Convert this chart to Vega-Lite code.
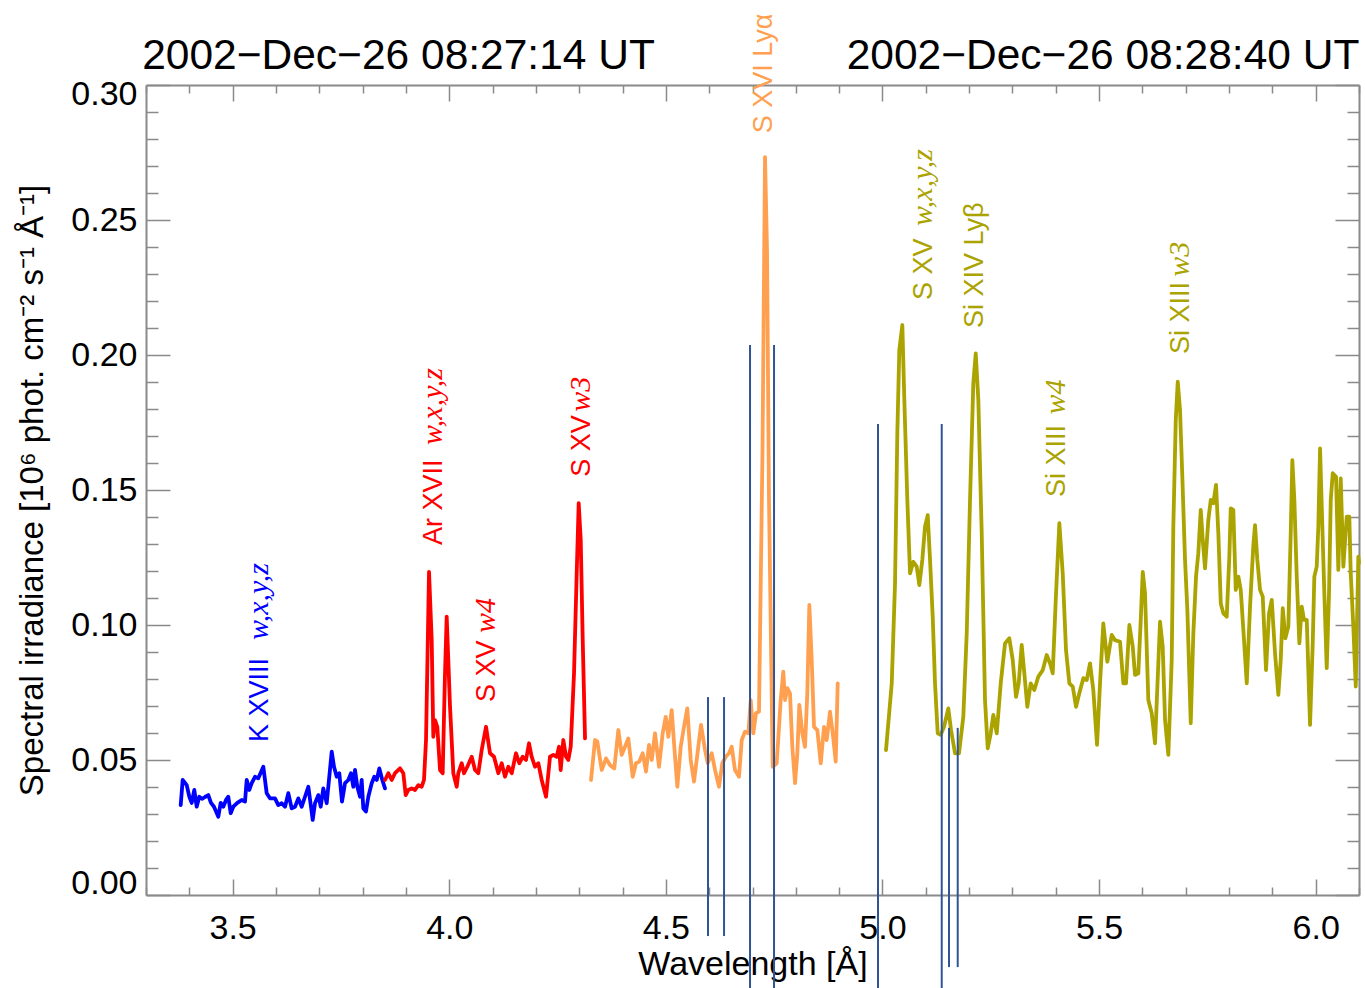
{
  "$schema": "https://vega.github.io/schema/vega-lite/v6.json",
  "width": 1213,
  "height": 810,
  "autosize": {"type": "none"},
  "padding": {"left": 146, "top": 85, "right": 6, "bottom": 93},
  "background": "white",
  "config": {"view": {"stroke": null}, "font": "Liberation Sans"},
  "datasets": {
    "spec": [
      {"seg":"K","x":3.3801,"y":0.0333},{"seg":"K","x":3.3847,"y":0.0426},{"seg":"K","x":3.3940,"y":0.0407},{"seg":"K","x":3.4000,"y":0.0364},{"seg":"K","x":3.4055,"y":0.0341},{"seg":"K","x":3.4115,"y":0.0389},{"seg":"K","x":3.4170,"y":0.0327},{"seg":"K","x":3.4230,"y":0.0364},{"seg":"K","x":3.4293,"y":0.0356},{"seg":"K","x":3.4362,"y":0.0363},{"seg":"K","x":3.4438,"y":0.0370},{"seg":"K","x":3.4500,"y":0.0341},{"seg":"K","x":3.4570,"y":0.0327},{"seg":"K","x":3.4669,"y":0.0290},{"seg":"K","x":3.4724,"y":0.0341},{"seg":"K","x":3.4784,"y":0.0327},{"seg":"K","x":3.4847,"y":0.0352},{"seg":"K","x":3.4900,"y":0.0364},{"seg":"K","x":3.4955,"y":0.0303},{"seg":"K","x":3.5015,"y":0.0327},{"seg":"K","x":3.5108,"y":0.0341},{"seg":"K","x":3.5209,"y":0.0352},{"seg":"K","x":3.5285,"y":0.0346},{"seg":"K","x":3.5325,"y":0.0426},{"seg":"K","x":3.5385,"y":0.0389},{"seg":"K","x":3.5440,"y":0.0414},{"seg":"K","x":3.5516,"y":0.0438},{"seg":"K","x":3.5592,"y":0.0432},{"seg":"K","x":3.5708,"y":0.0475},{"seg":"K","x":3.5786,"y":0.0377},{"seg":"K","x":3.5862,"y":0.0358},{"seg":"K","x":3.5978,"y":0.0358},{"seg":"K","x":3.6054,"y":0.0333},{"seg":"K","x":3.6133,"y":0.0340},{"seg":"K","x":3.6209,"y":0.0327},{"seg":"K","x":3.6285,"y":0.0377},{"seg":"K","x":3.6363,"y":0.0321},{"seg":"K","x":3.6440,"y":0.0327},{"seg":"K","x":3.6516,"y":0.0358},{"seg":"K","x":3.6594,"y":0.0327},{"seg":"K","x":3.6670,"y":0.0364},{"seg":"K","x":3.6747,"y":0.0401},{"seg":"K","x":3.6809,"y":0.0327},{"seg":"K","x":3.6848,"y":0.0278},{"seg":"K","x":3.6901,"y":0.0340},{"seg":"K","x":3.6977,"y":0.0370},{"seg":"K","x":3.7033,"y":0.0327},{"seg":"K","x":3.7093,"y":0.0395},{"seg":"K","x":3.7171,"y":0.0340},{"seg":"K","x":3.7231,"y":0.0438},{"seg":"K","x":3.7287,"y":0.0531},{"seg":"K","x":3.7340,"y":0.0475},{"seg":"K","x":3.7402,"y":0.0438},{"seg":"K","x":3.7462,"y":0.0451},{"seg":"K","x":3.7524,"y":0.0346},{"seg":"K","x":3.7594,"y":0.0414},{"seg":"K","x":3.7670,"y":0.0426},{"seg":"K","x":3.7732,"y":0.0451},{"seg":"K","x":3.7785,"y":0.0401},{"seg":"K","x":3.7825,"y":0.0463},{"seg":"K","x":3.7878,"y":0.0401},{"seg":"K","x":3.7940,"y":0.0364},{"seg":"K","x":3.7979,"y":0.0426},{"seg":"K","x":3.8016,"y":0.0321},{"seg":"K","x":3.8078,"y":0.0309},{"seg":"K","x":3.8132,"y":0.0364},{"seg":"K","x":3.8210,"y":0.0414},{"seg":"K","x":3.8270,"y":0.0438},{"seg":"K","x":3.8326,"y":0.0426},{"seg":"K","x":3.8386,"y":0.0469},{"seg":"K","x":3.8455,"y":0.0426},{"seg":"K","x":3.8517,"y":0.0395},
      {"seg":"Ar","x":3.8517,"y":0.0426},{"seg":"Ar","x":3.8593,"y":0.0451},{"seg":"Ar","x":3.8672,"y":0.0426},{"seg":"Ar","x":3.8748,"y":0.0451},{"seg":"Ar","x":3.8863,"y":0.0469},{"seg":"Ar","x":3.8940,"y":0.0451},{"seg":"Ar","x":3.8995,"y":0.0370},{"seg":"Ar","x":3.9055,"y":0.0389},{"seg":"Ar","x":3.9133,"y":0.0395},{"seg":"Ar","x":3.9210,"y":0.0389},{"seg":"Ar","x":3.9286,"y":0.0407},{"seg":"Ar","x":3.9364,"y":0.0401},{"seg":"Ar","x":3.9417,"y":0.0426},{"seg":"Ar","x":3.9464,"y":0.0574},{"seg":"Ar","x":3.9533,"y":0.1197},{"seg":"Ar","x":3.9595,"y":0.0944},{"seg":"Ar","x":3.9632,"y":0.0586},{"seg":"Ar","x":3.9671,"y":0.0648},{"seg":"Ar","x":3.9724,"y":0.0623},{"seg":"Ar","x":3.9787,"y":0.0463},{"seg":"Ar","x":3.9849,"y":0.0451},{"seg":"Ar","x":3.9902,"y":0.0821},{"seg":"Ar","x":3.9941,"y":0.1031},{"seg":"Ar","x":4.0018,"y":0.0697},{"seg":"Ar","x":4.0094,"y":0.0451},{"seg":"Ar","x":4.0172,"y":0.0401},{"seg":"Ar","x":4.0209,"y":0.0451},{"seg":"Ar","x":4.0288,"y":0.0488},{"seg":"Ar","x":4.0341,"y":0.0451},{"seg":"Ar","x":4.0417,"y":0.0475},{"seg":"Ar","x":4.0519,"y":0.0512},{"seg":"Ar","x":4.0595,"y":0.0463},{"seg":"Ar","x":4.0671,"y":0.0451},{"seg":"Ar","x":4.0749,"y":0.0537},{"seg":"Ar","x":4.0849,"y":0.0623},{"seg":"Ar","x":4.0941,"y":0.0525},{"seg":"Ar","x":4.1033,"y":0.0512},{"seg":"Ar","x":4.1133,"y":0.0451},{"seg":"Ar","x":4.1211,"y":0.0488},{"seg":"Ar","x":4.1287,"y":0.0438},{"seg":"Ar","x":4.1363,"y":0.0475},{"seg":"Ar","x":4.1442,"y":0.0451},{"seg":"Ar","x":4.1541,"y":0.0525},{"seg":"Ar","x":4.1617,"y":0.0488},{"seg":"Ar","x":4.1696,"y":0.0512},{"seg":"Ar","x":4.1772,"y":0.0500},{"seg":"Ar","x":4.1841,"y":0.0562},{"seg":"Ar","x":4.1903,"y":0.0512},{"seg":"Ar","x":4.1980,"y":0.0475},{"seg":"Ar","x":4.2056,"y":0.0488},{"seg":"Ar","x":4.2134,"y":0.0426},{"seg":"Ar","x":4.2234,"y":0.0364},{"seg":"Ar","x":4.2326,"y":0.0512},{"seg":"Ar","x":4.2402,"y":0.0519},{"seg":"Ar","x":4.2481,"y":0.0512},{"seg":"Ar","x":4.2534,"y":0.0549},{"seg":"Ar","x":4.2573,"y":0.0463},{"seg":"Ar","x":4.2633,"y":0.0574},{"seg":"Ar","x":4.2695,"y":0.0512},{"seg":"Ar","x":4.2748,"y":0.0500},{"seg":"Ar","x":4.2804,"y":0.0549},{"seg":"Ar","x":4.2880,"y":0.0821},{"seg":"Ar","x":4.2942,"y":0.1191},{"seg":"Ar","x":4.2988,"y":0.1451},{"seg":"Ar","x":4.3035,"y":0.1315},{"seg":"Ar","x":4.3081,"y":0.0944},{"seg":"Ar","x":4.3134,"y":0.0580},
      {"seg":"SXVI","x":4.3272,"y":0.0426},{"seg":"SXVI","x":4.3365,"y":0.0574},{"seg":"SXVI","x":4.3418,"y":0.0568},{"seg":"SXVI","x":4.3519,"y":0.0463},{"seg":"SXVI","x":4.3619,"y":0.0506},{"seg":"SXVI","x":4.3711,"y":0.0481},{"seg":"SXVI","x":4.3810,"y":0.0469},{"seg":"SXVI","x":4.3903,"y":0.0611},{"seg":"SXVI","x":4.3981,"y":0.0519},{"seg":"SXVI","x":4.4057,"y":0.0549},{"seg":"SXVI","x":4.4133,"y":0.0580},{"seg":"SXVI","x":4.4235,"y":0.0438},{"seg":"SXVI","x":4.4311,"y":0.0488},{"seg":"SXVI","x":4.4387,"y":0.0494},{"seg":"SXVI","x":4.4466,"y":0.0525},{"seg":"SXVI","x":4.4542,"y":0.0457},{"seg":"SXVI","x":4.4611,"y":0.0556},{"seg":"SXVI","x":4.4674,"y":0.0500},{"seg":"SXVI","x":4.4750,"y":0.0599},{"seg":"SXVI","x":4.4842,"y":0.0475},{"seg":"SXVI","x":4.4927,"y":0.0599},{"seg":"SXVI","x":4.4997,"y":0.0660},{"seg":"SXVI","x":4.5057,"y":0.0586},{"seg":"SXVI","x":4.5135,"y":0.0685},{"seg":"SXVI","x":4.5195,"y":0.0549},{"seg":"SXVI","x":4.5265,"y":0.0401},{"seg":"SXVI","x":4.5343,"y":0.0549},{"seg":"SXVI","x":4.5419,"y":0.0623},{"seg":"SXVI","x":4.5495,"y":0.0691},{"seg":"SXVI","x":4.5574,"y":0.0500},{"seg":"SXVI","x":4.5650,"y":0.0420},{"seg":"SXVI","x":4.5749,"y":0.0549},{"seg":"SXVI","x":4.5812,"y":0.0630},{"seg":"SXVI","x":4.5904,"y":0.0537},{"seg":"SXVI","x":4.5966,"y":0.0488},{"seg":"SXVI","x":4.6059,"y":0.0525},{"seg":"SXVI","x":4.6135,"y":0.0463},{"seg":"SXVI","x":4.6227,"y":0.0401},{"seg":"SXVI","x":4.6303,"y":0.0488},{"seg":"SXVI","x":4.6382,"y":0.0512},{"seg":"SXVI","x":4.6458,"y":0.0525},{"seg":"SXVI","x":4.6520,"y":0.0549},{"seg":"SXVI","x":4.6596,"y":0.0463},{"seg":"SXVI","x":4.6689,"y":0.0438},{"seg":"SXVI","x":4.6751,"y":0.0574},{"seg":"SXVI","x":4.6827,"y":0.0605},{"seg":"SXVI","x":4.6904,"y":0.0599},{"seg":"SXVI","x":4.6959,"y":0.0722},{"seg":"SXVI","x":4.7019,"y":0.0599},{"seg":"SXVI","x":4.7081,"y":0.0673},{"seg":"SXVI","x":4.7150,"y":0.0679},{"seg":"SXVI","x":4.7231,"y":0.1648},{"seg":"SXVI","x":4.7289,"y":0.2733},{"seg":"SXVI","x":4.7335,"y":0.2389},{"seg":"SXVI","x":4.7381,"y":0.1463},{"seg":"SXVI","x":4.7467,"y":0.0475},{"seg":"SXVI","x":4.7559,"y":0.0488},{"seg":"SXVI","x":4.7651,"y":0.0722},{"seg":"SXVI","x":4.7711,"y":0.0827},{"seg":"SXVI","x":4.7751,"y":0.0722},{"seg":"SXVI","x":4.7804,"y":0.0766},{"seg":"SXVI","x":4.7866,"y":0.0747},{"seg":"SXVI","x":4.7919,"y":0.0549},{"seg":"SXVI","x":4.7982,"y":0.0414},{"seg":"SXVI","x":4.8035,"y":0.0525},{"seg":"SXVI","x":4.8081,"y":0.0704},{"seg":"SXVI","x":4.8150,"y":0.0599},{"seg":"SXVI","x":4.8212,"y":0.0549},{"seg":"SXVI","x":4.8265,"y":0.0747},{"seg":"SXVI","x":4.8312,"y":0.1074},{"seg":"SXVI","x":4.8367,"y":0.0870},{"seg":"SXVI","x":4.8420,"y":0.0623},{"seg":"SXVI","x":4.8496,"y":0.0611},{"seg":"SXVI","x":4.8575,"y":0.0488},{"seg":"SXVI","x":4.8651,"y":0.0623},{"seg":"SXVI","x":4.8713,"y":0.0574},{"seg":"SXVI","x":4.8789,"y":0.0679},{"seg":"SXVI","x":4.8852,"y":0.0599},{"seg":"SXVI","x":4.8921,"y":0.0494},{"seg":"SXVI","x":4.8967,"y":0.0784},
      {"seg":"Si","x":5.0082,"y":0.0537},{"seg":"Si","x":5.0214,"y":0.0784},{"seg":"Si","x":5.0290,"y":0.1154},{"seg":"Si","x":5.0343,"y":0.1710},{"seg":"Si","x":5.0389,"y":0.2019},{"seg":"Si","x":5.0459,"y":0.2111},{"seg":"Si","x":5.0505,"y":0.1833},{"seg":"Si","x":5.0574,"y":0.1463},{"seg":"Si","x":5.0636,"y":0.1191},{"seg":"Si","x":5.0712,"y":0.1234},{"seg":"Si","x":5.0791,"y":0.1216},{"seg":"Si","x":5.0851,"y":0.1148},{"seg":"Si","x":5.0920,"y":0.1241},{"seg":"Si","x":5.0982,"y":0.1364},{"seg":"Si","x":5.1045,"y":0.1407},{"seg":"Si","x":5.1098,"y":0.1241},{"seg":"Si","x":5.1160,"y":0.1031},{"seg":"Si","x":5.1213,"y":0.0784},{"seg":"Si","x":5.1275,"y":0.0599},{"seg":"Si","x":5.1345,"y":0.0593},{"seg":"Si","x":5.1421,"y":0.0623},{"seg":"Si","x":5.1520,"y":0.0691},{"seg":"Si","x":5.1583,"y":0.0611},{"seg":"Si","x":5.1675,"y":0.0525},{"seg":"Si","x":5.1767,"y":0.0525},{"seg":"Si","x":5.1866,"y":0.0660},{"seg":"Si","x":5.1945,"y":0.0969},{"seg":"Si","x":5.2021,"y":0.1463},{"seg":"Si","x":5.2097,"y":0.1895},{"seg":"Si","x":5.2153,"y":0.2006},{"seg":"Si","x":5.2213,"y":0.1833},{"seg":"Si","x":5.2291,"y":0.1340},{"seg":"Si","x":5.2367,"y":0.0722},{"seg":"Si","x":5.2430,"y":0.0543},{"seg":"Si","x":5.2499,"y":0.0599},{"seg":"Si","x":5.2559,"y":0.0667},{"seg":"Si","x":5.2638,"y":0.0599},{"seg":"Si","x":5.2730,"y":0.0784},{"seg":"Si","x":5.2829,"y":0.0932},{"seg":"Si","x":5.2928,"y":0.0951},{"seg":"Si","x":5.3007,"y":0.0870},{"seg":"Si","x":5.3083,"y":0.0734},{"seg":"Si","x":5.3145,"y":0.0784},{"seg":"Si","x":5.3214,"y":0.0926},{"seg":"Si","x":5.3275,"y":0.0821},{"seg":"Si","x":5.3344,"y":0.0697},{"seg":"Si","x":5.3422,"y":0.0784},{"seg":"Si","x":5.3505,"y":0.0759},{"seg":"Si","x":5.3598,"y":0.0809},{"seg":"Si","x":5.3700,"y":0.0833},{"seg":"Si","x":5.3792,"y":0.0889},{"seg":"Si","x":5.3868,"y":0.0858},{"seg":"Si","x":5.3930,"y":0.0821},{"seg":"Si","x":5.4000,"y":0.1093},{"seg":"Si","x":5.4083,"y":0.1377},{"seg":"Si","x":5.4161,"y":0.1191},{"seg":"Si","x":5.4237,"y":0.0907},{"seg":"Si","x":5.4314,"y":0.0784},{"seg":"Si","x":5.4392,"y":0.0772},{"seg":"Si","x":5.4468,"y":0.0697},{"seg":"Si","x":5.4544,"y":0.0747},{"seg":"Si","x":5.4637,"y":0.0803},{"seg":"Si","x":5.4715,"y":0.0796},{"seg":"Si","x":5.4791,"y":0.0858},{"seg":"Si","x":5.4867,"y":0.0759},{"seg":"Si","x":5.4953,"y":0.0556},{"seg":"Si","x":5.5022,"y":0.0784},{"seg":"Si","x":5.5098,"y":0.1006},{"seg":"Si","x":5.5191,"y":0.0864},{"seg":"Si","x":5.5292,"y":0.0963},{"seg":"Si","x":5.5368,"y":0.0944},{"seg":"Si","x":5.5484,"y":0.0938},{"seg":"Si","x":5.5560,"y":0.0784},{"seg":"Si","x":5.5622,"y":0.0784},{"seg":"Si","x":5.5699,"y":0.1000},{"seg":"Si","x":5.5777,"y":0.0920},{"seg":"Si","x":5.5830,"y":0.0815},{"seg":"Si","x":5.5906,"y":0.0821},{"seg":"Si","x":5.5962,"y":0.1019},{"seg":"Si","x":5.6008,"y":0.1197},{"seg":"Si","x":5.6061,"y":0.1117},{"seg":"Si","x":5.6137,"y":0.0722},{"seg":"Si","x":5.6215,"y":0.0673},{"seg":"Si","x":5.6292,"y":0.0562},{"seg":"Si","x":5.6407,"y":0.1012},{"seg":"Si","x":5.6469,"y":0.0920},{"seg":"Si","x":5.6523,"y":0.0648},{"seg":"Si","x":5.6599,"y":0.0519},{"seg":"Si","x":5.6677,"y":0.0870},{"seg":"Si","x":5.6714,"y":0.1364},{"seg":"Si","x":5.6770,"y":0.1759},{"seg":"Si","x":5.6816,"y":0.1901},{"seg":"Si","x":5.6869,"y":0.1796},{"seg":"Si","x":5.6922,"y":0.1549},{"seg":"Si","x":5.6984,"y":0.1241},{"seg":"Si","x":5.7038,"y":0.1056},{"seg":"Si","x":5.7116,"y":0.0636},{"seg":"Si","x":5.7176,"y":0.0969},{"seg":"Si","x":5.7238,"y":0.1179},{"seg":"Si","x":5.7291,"y":0.1266},{"seg":"Si","x":5.7347,"y":0.1426},{"seg":"Si","x":5.7393,"y":0.1315},{"seg":"Si","x":5.7446,"y":0.1210},{"seg":"Si","x":5.7522,"y":0.1389},{"seg":"Si","x":5.7578,"y":0.1463},{"seg":"Si","x":5.7638,"y":0.1451},{"seg":"Si","x":5.7700,"y":0.1519},{"seg":"Si","x":5.7753,"y":0.1340},{"seg":"Si","x":5.7809,"y":0.1080},{"seg":"Si","x":5.7869,"y":0.1043},{"seg":"Si","x":5.7947,"y":0.1031},{"seg":"Si","x":5.8007,"y":0.1253},{"seg":"Si","x":5.8039,"y":0.1432},{"seg":"Si","x":5.8099,"y":0.1426},{"seg":"Si","x":5.8155,"y":0.1130},{"seg":"Si","x":5.8215,"y":0.1179},{"seg":"Si","x":5.8270,"y":0.1130},{"seg":"Si","x":5.8346,"y":0.0944},{"seg":"Si","x":5.8409,"y":0.0784},{"seg":"Si","x":5.8485,"y":0.1068},{"seg":"Si","x":5.8561,"y":0.1296},{"seg":"Si","x":5.8600,"y":0.1370},{"seg":"Si","x":5.8653,"y":0.1241},{"seg":"Si","x":5.8716,"y":0.1130},{"seg":"Si","x":5.8778,"y":0.1105},{"seg":"Si","x":5.8854,"y":0.0833},{"seg":"Si","x":5.8923,"y":0.1043},{"seg":"Si","x":5.8986,"y":0.1093},{"seg":"Si","x":5.9062,"y":0.0895},{"seg":"Si","x":5.9138,"y":0.0741},{"seg":"Si","x":5.9193,"y":0.0870},{"seg":"Si","x":5.9240,"y":0.1062},{"seg":"Si","x":5.9300,"y":0.0951},{"seg":"Si","x":5.9369,"y":0.0994},{"seg":"Si","x":5.9424,"y":0.1340},{"seg":"Si","x":5.9461,"y":0.1611},{"seg":"Si","x":5.9508,"y":0.1463},{"seg":"Si","x":5.9563,"y":0.1179},{"seg":"Si","x":5.9623,"y":0.0932},{"seg":"Si","x":5.9678,"y":0.1068},{"seg":"Si","x":5.9731,"y":0.1019},{"seg":"Si","x":5.9794,"y":0.1019},{"seg":"Si","x":5.9870,"y":0.0630},{"seg":"Si","x":5.9932,"y":0.0932},{"seg":"Si","x":5.9969,"y":0.1179},{"seg":"Si","x":6.0024,"y":0.1216},{"seg":"Si","x":6.0061,"y":0.1364},{"seg":"Si","x":6.0101,"y":0.1654},{"seg":"Si","x":6.0154,"y":0.1364},{"seg":"Si","x":6.0200,"y":0.1117},{"seg":"Si","x":6.0255,"y":0.0840},{"seg":"Si","x":6.0308,"y":0.1117},{"seg":"Si","x":6.0348,"y":0.1463},{"seg":"Si","x":6.0394,"y":0.1562},{"seg":"Si","x":6.0470,"y":0.1549},{"seg":"Si","x":6.0523,"y":0.1204},{"seg":"Si","x":6.0578,"y":0.1543},{"seg":"Si","x":6.0639,"y":0.1216},{"seg":"Si","x":6.0717,"y":0.1401},{"seg":"Si","x":6.0777,"y":0.1401},{"seg":"Si","x":6.0809,"y":0.1191},{"seg":"Si","x":6.0869,"y":0.0994},{"seg":"Si","x":6.0925,"y":0.0772},{"seg":"Si","x":6.0985,"y":0.1253},{"seg":"Si","x":6.1000,"y":0.1230}
    ],
    "rules": [
      {"x":4.5973,"y":0.0733,"y2":-0.0152},
      {"x":4.6343,"y":0.0733,"y2":-0.0152},
      {"x":4.6943,"y":0.2037,"y2":-0.0350},
      {"x":4.7497,"y":0.2037,"y2":-0.0350},
      {"x":4.9897,"y":0.1744,"y2":-0.0350},
      {"x":5.1368,"y":0.1744,"y2":-0.0350},
      {"x":5.1536,"y":0.0619,"y2":-0.0267},
      {"x":5.1737,"y":0.0619,"y2":-0.0267}
    ],
    "labels": [
      {"seg":"K","x":3.5805,"y":0.0567,"text":"K XVIII","style":"sans"},
      {"seg":"Ar","x":3.9826,"y":0.1296,"text":"Ar XVII","style":"sans"},
      {"seg":"Ar","x":4.1056,"y":0.0715,"text":"S XV","style":"sans"},
      {"seg":"Ar","x":4.3249,"y":0.1549,"text":"S XV","style":"sans"},
      {"seg":"SXVI","x":4.7444,"y":0.2821,"text":"S XVI Lyα","style":"sans"},
      {"seg":"Si","x":5.1144,"y":0.2204,"text":"S XV","style":"sans"},
      {"seg":"Si","x":5.2328,"y":0.2100,"text":"Si XIV Lyβ","style":"sans"},
      {"seg":"Si","x":5.4214,"y":0.1474,"text":"Si XIII","style":"sans"},
      {"seg":"Si","x":5.7077,"y":0.2004,"text":"Si XIII","style":"sans"},
      {"seg":"K","x":3.5805,"y":0.0944,"text":"w,x,y,z","style":"math"},
      {"seg":"Ar","x":3.9826,"y":0.1667,"text":"w,x,y,z","style":"math"},
      {"seg":"Ar","x":4.1056,"y":0.0970,"text":"w4","style":"math"},
      {"seg":"Ar","x":4.3249,"y":0.1790,"text":"w3","style":"math"},
      {"seg":"Si","x":5.1144,"y":0.2478,"text":"w,x,y,z","style":"math"},
      {"seg":"Si","x":5.4214,"y":0.1780,"text":"w4","style":"math"},
      {"seg":"Si","x":5.7077,"y":0.2290,"text":"w3","style":"math"}
    ],
    "titles": [
      {"x":3.8829,"y":0.3059,"text":"2002−Dec−26 08:27:14 UT"},
      {"x":5.5091,"y":0.3059,"text":"2002−Dec−26 08:28:40 UT"}
    ]
  },
  "layer": [
    {
      "data": {"name": "spec"},
      "mark": {"type": "line", "strokeWidth": 3.8, "strokeJoin": "round", "strokeCap": "round"},
      "encoding": {
        "x": {"field": "x", "type": "quantitative",
          "scale": {"domain": [3.3, 6.1], "nice": false, "zero": false},
          "axis": {
            "orient": "bottom",
            "values": [3.3,3.4,3.5,3.6,3.7,3.8,3.9,4.0,4.1,4.2,4.3,4.4,4.5,4.6,4.7,4.8,4.9,5.0,5.1,5.2,5.3,5.4,5.5,5.6,5.7,5.8,5.9,6.0,6.1],
            "labelExpr": "abs(datum.value*2 - round(datum.value*2)) < 0.001 ? format(datum.value, '.1f') : ''",
            "tickSize": {"condition": {"test": "abs(datum.value*2 - round(datum.value*2)) < 0.001", "value": -16}, "value": -8},
            "labelPadding": 32,
            "labelFont": "Liberation Sans", "labelFontSize": 34, "labelColor": "black",
            "labelOverlap": false, "labelFlush": false, "labelBound": false,
            "domainColor": "#8a8a8a", "domainWidth": 2, "tickColor": "#8a8a8a", "tickWidth": 1.5,
            "grid": false,
            "title": "Wavelength [Å]", "titleFont": "Liberation Sans", "titleFontSize": 34, "titleFontWeight": "normal", "titleColor": "black", "titlePadding": -6
          }},
        "y": {"field": "y", "type": "quantitative",
          "scale": {"domain": [0, 0.3], "nice": false, "zero": false},
          "axis": {
            "orient": "left",
            "values": [0,0.01,0.02,0.03,0.04,0.05,0.06,0.07,0.08,0.09,0.1,0.11,0.12,0.13,0.14,0.15,0.16,0.17,0.18,0.19,0.2,0.21,0.22,0.23,0.24,0.25,0.26,0.27,0.28,0.29,0.3],
            "labelExpr": "abs(datum.value*20 - round(datum.value*20)) < 0.001 ? format(datum.value, '.2f') : ''",
            "tickSize": {"condition": {"test": "abs(datum.value*20 - round(datum.value*20)) < 0.001", "value": -24}, "value": -12},
            "labelPadding": 33,
            "labelOffset": {"condition": [{"test": "datum.value > 0.295", "value": 9}, {"test": "datum.value < 0.005", "value": -12}], "value": 0},
            "labelFont": "Liberation Sans", "labelFontSize": 34, "labelColor": "black",
            "labelOverlap": false, "labelFlush": false, "labelBound": false,
            "domainColor": "#8a8a8a", "domainWidth": 2, "tickColor": "#8a8a8a", "tickWidth": 1.5,
            "grid": false,
            "title": "Spectral irradiance [10⁶ phot. cm⁻² s⁻¹ Å⁻¹]", "titleFont": "Liberation Sans", "titleFontSize": 33, "titleFontWeight": "normal", "titleColor": "black", "titlePadding": 21
          }},
        "color": {"field": "seg", "type": "nominal",
          "scale": {"domain": ["K", "Ar", "SXVI", "Si"], "range": ["#0000ff", "#ff0000", "#ffa050", "#aba300"]},
          "legend": null}
      }
    },
    {
      "data": {"name": "rules"},
      "mark": {"type": "rule", "color": "#2f5597", "strokeWidth": 2},
      "encoding": {
        "x": {"field": "x", "type": "quantitative",
          "scale": {"domain": [3.3, 6.1], "nice": false, "zero": false},
          "axis": {
            "orient": "top",
            "values": [3.3,3.4,3.5,3.6,3.7,3.8,3.9,4.0,4.1,4.2,4.3,4.4,4.5,4.6,4.7,4.8,4.9,5.0,5.1,5.2,5.3,5.4,5.5,5.6,5.7,5.8,5.9,6.0,6.1],
            "labels": false,
            "tickSize": {"condition": {"test": "abs(datum.value*2 - round(datum.value*2)) < 0.001", "value": -16}, "value": -8},
            "domainColor": "#8a8a8a", "domainWidth": 2, "tickColor": "#8a8a8a", "tickWidth": 1.5,
            "grid": false, "title": null
          }},
        "y": {"field": "y", "type": "quantitative",
          "scale": {"domain": [0, 0.3], "nice": false, "zero": false},
          "axis": {
            "orient": "right",
            "values": [0,0.01,0.02,0.03,0.04,0.05,0.06,0.07,0.08,0.09,0.1,0.11,0.12,0.13,0.14,0.15,0.16,0.17,0.18,0.19,0.2,0.21,0.22,0.23,0.24,0.25,0.26,0.27,0.28,0.29,0.3],
            "labels": false,
            "tickSize": {"condition": {"test": "abs(datum.value*20 - round(datum.value*20)) < 0.001", "value": -24}, "value": -12},
            "domainColor": "#8a8a8a", "domainWidth": 2, "tickColor": "#8a8a8a", "tickWidth": 1.5,
            "grid": false, "title": null
          }},
        "y2": {"field": "y2"}
      }
    },
    {
      "data": {"name": "labels"},
      "transform": [{"filter": "datum.style == 'sans'"}],
      "mark": {"type": "text", "angle": 270, "align": "left", "baseline": "alphabetic", "font": "Liberation Sans", "fontSize": 27},
      "encoding": {
        "x": {"field": "x", "type": "quantitative", "scale": {"domain": [3.3, 6.1], "nice": false, "zero": false}, "axis": null},
        "y": {"field": "y", "type": "quantitative", "scale": {"domain": [0, 0.3], "nice": false, "zero": false}, "axis": null},
        "text": {"field": "text"},
        "color": {"field": "seg", "type": "nominal", "legend": null}
      }
    },
    {
      "data": {"name": "labels"},
      "transform": [{"filter": "datum.style == 'math'"}],
      "mark": {"type": "text", "angle": 270, "align": "left", "baseline": "alphabetic", "font": "Liberation Serif", "fontStyle": "italic", "fontSize": 30},
      "encoding": {
        "x": {"field": "x", "type": "quantitative", "scale": {"domain": [3.3, 6.1], "nice": false, "zero": false}, "axis": null},
        "y": {"field": "y", "type": "quantitative", "scale": {"domain": [0, 0.3], "nice": false, "zero": false}, "axis": null},
        "text": {"field": "text"},
        "color": {"field": "seg", "type": "nominal", "legend": null}
      }
    },
    {
      "data": {"name": "titles"},
      "mark": {"type": "text", "align": "center", "baseline": "alphabetic", "font": "Liberation Sans", "fontSize": 42.5, "color": "black"},
      "encoding": {
        "x": {"field": "x", "type": "quantitative", "scale": {"domain": [3.3, 6.1], "nice": false, "zero": false}, "axis": null},
        "y": {"field": "y", "type": "quantitative", "scale": {"domain": [0, 0.3], "nice": false, "zero": false}, "axis": null},
        "text": {"field": "text"}
      }
    }
  ],
  "resolve": {"axis": {"x": "independent", "y": "independent"}}
}
